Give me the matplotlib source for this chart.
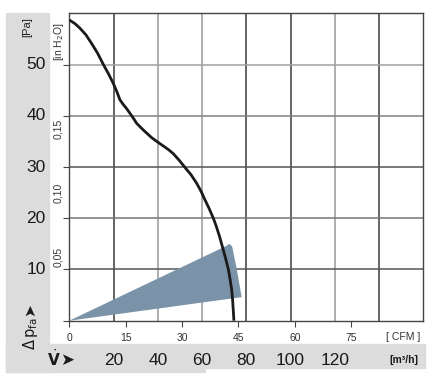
import matplotlib
matplotlib.use("Agg")
from matplotlib import pyplot as plt
from matplotlib.patches import Rectangle, Polygon

plt.rcParams['font.family'] = ['Liberation Sans Narrow', 'Liberation Sans', 'DejaVu Sans']

# fan curve, flow in m3/h, pressure in Pa
flow = [0, 2.5, 4.8, 7.5, 10.1, 12.8, 15.4, 17.7, 19.9, 21.5, 22.9, 24.4, 25.9, 28.2,
        30.5, 32.8, 35.0, 37.3, 39.5, 42.5, 44.8, 47.0, 49.7, 52.3, 55.0, 57.6, 59.5,
        61.3, 63.2, 65.1, 66.3, 68.0, 69.6, 70.8, 71.9, 72.7, 73.4, 73.8, 74.1, 74.4]
pressure = [58.7, 58.0, 57.1, 55.8, 54.1, 52.2, 50.0, 48.2, 46.3, 44.7, 43.1, 42.2, 41.4, 40.0,
            38.5, 37.5, 36.6, 35.7, 35.0, 34.1, 33.4, 32.6, 31.3, 29.9, 28.5, 26.8, 25.3,
            23.6, 21.9, 20.0, 18.6, 16.3, 13.8, 11.9, 10.0, 8.0, 6.0, 4.1, 2.1, 0.0]

# working range (shaded area)
area_flow = [0, 71.0, 72.3, 73.6, 75.5, 77.9]
area_pressure = [0, 14.6, 15.0, 14.5, 10.5, 4.6]

pa_ticks = [10, 20, 30, 40, 50]
inh2o_ticks = [0.05, 0.10, 0.15]
inh2o_labels = ['0,05', '0,10', '0,15']
cfm_ticks = [0, 15, 30, 45, 60, 75]
m3h_ticks = [20, 40, 60, 80, 100, 120]
grid_x = [20, 40, 60, 80, 100, 120, 140]
grid_x_col = ['#4a4a4a', '#a0a0a0', '#a0a0a0', '#4a4a4a', '#4a4a4a', '#a0a0a0', '#4a4a4a']
grid_y = [10, 20, 30, 40, 50]
grid_y_col = ['#555555', '#777777', '#555555', '#808080', '#a0a0a0']

fig = plt.figure(figsize=(4.33, 3.78), dpi=100)
W, H = 433.0, 378.0

# grey background bands
bg = '#dcdcdc'
for (x0, y0, x1, y1) in [(6, 13, 49, 372), (6, 344, 425, 368), (6, 367, 205, 372)]:
    fig.patches.append(Rectangle((x0 / W, 1 - y1 / H), (x1 - x0) / W, (y1 - y0) / H,
                                 transform=fig.transFigure, color=bg, zorder=-5))

ax = fig.add_axes([69.3 / W, 1 - 320.7 / H, 354 / W, 307.4 / H])
ax.set_xlim(0, 160)
ax.set_ylim(0, 60)

for x, c in zip(grid_x, grid_x_col):
    ax.axvline(x, color=c, lw=1.2, zorder=1)
for y, c in zip(grid_y, grid_y_col):
    ax.axhline(y, color=c, lw=1.1, zorder=1)

ax.add_patch(Polygon(list(zip(area_flow, area_pressure)), closed=True,
                     facecolor='#7a93a8', edgecolor='none', zorder=2))
ax.plot(flow, pressure, color='#1a1a1a', lw=2.0, zorder=3, solid_capstyle='butt')

for s in ax.spines.values():
    s.set_color('#444444')
    s.set_linewidth(1.0)

# ticks
ax.set_yticks([0] + pa_ticks)
ax.set_yticklabels([])
ax.tick_params(axis='y', direction='out', length=4, color='#444444')
ax.set_xticks([c * 1.699 for c in cfm_ticks])
ax.set_xticklabels([str(c) for c in cfm_ticks], fontsize=7.5, color='#333333')
ax.tick_params(axis='x', direction='out', length=4, pad=5, color='#444444')

xt = ax.get_xaxis_transform()
yt = ax.get_yaxis_transform()

ax.text(151, -0.053, '[ CFM ]', transform=xt, ha='center', va='center',
        fontsize=7.5, color='#333333')
for m in m3h_ticks:
    ax.text(m, -0.128, str(m), transform=xt, ha='center', va='center',
            fontsize=12.5, color='#1a1a1a')
ax.text(151, -0.128, '[m³/h]', transform=xt, ha='center', va='center',
        fontsize=7.5, fontweight='bold', color='#1a1a1a')
ax.text(-0.043, -0.122, r'$\dot{\mathbf{V}}$', transform=ax.transAxes, ha='center',
        va='center', fontsize=11, color='#1a1a1a')
ax.text(-0.005, -0.128, '➤', transform=ax.transAxes, ha='center', va='center',
        fontsize=12, color='#1a1a1a', family=['DejaVu Sans'])

for p in pa_ticks:
    ax.text(-0.094, p, str(p), transform=yt, ha='center', va='center',
            fontsize=12.5, color='#1a1a1a')
ax.text(-0.12, 57.3, '[Pa]', transform=yt, ha='center', va='center',
        rotation=90, fontsize=8, color='#222222')

for v, lab in zip(inh2o_ticks, inh2o_labels):
    ax.text(-0.032, v * 249.09, lab, transform=yt, ha='center', va='center',
            rotation=90, fontsize=7.5, color='#333333')
ax.text(-0.028, 54.5, r'[in H$_2$O]', transform=yt, ha='center', va='center',
        rotation=90, fontsize=7.5, color='#333333')

ax.text(-0.111, -0.043, r'$\Delta\,\mathrm{p}_{\mathrm{fa}}$', transform=ax.transAxes,
        ha='center', va='center', rotation=90, fontsize=10.5, color='#1a1a1a')
ax.text(-0.111, 0.035, '➤', transform=ax.transAxes, ha='center', va='center',
        rotation=90, fontsize=11, color='#1a1a1a', family=['DejaVu Sans'])

fig.savefig('out.png', dpi=100)
